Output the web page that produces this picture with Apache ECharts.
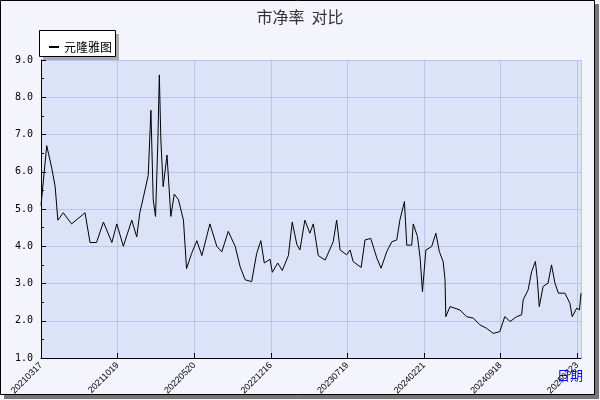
<!DOCTYPE html>
<html><head><meta charset="utf-8">
<script src="https://cdn.jsdelivr.net/npm/echarts@6/dist/echarts.min.js"></script>
<style>html,body{margin:0;padding:0;background:#fff}#c{width:600px;height:400px}</style>
</head><body><div id="c"></div>
<script>
var tickLabels = ['20210317','20211019','20220520','20221216','20230719','20240221','20240918','20250323'];
var times = [0,1.5,2.8,3.7,4.4,5.8,8.0,11.5,12.8,14.5,16.3,18.5,19.8,21.5,23.7,25.0,25.8,26.7,28.0,28.7,29.3,29.9,30.5,30.9,31.3,31.9,32.9,33.9,34.8,35.9,37.2,38.0,39.3,40.7,42.0,44.1,45.9,47.2,48.9,50.7,52.0,53.3,55.0,56.3,57.4,58.3,59.8,60.4,61.8,63.0,64.6,65.6,66.8,
67.6,68.9,70.2,71.1,72.4,74.2,76.3,77.2,78.1,79.8,80.7,81.5,83.6,84.6,86.1,87.7,88.8,90.3,91.6,92.9,93.7,94.9,95.5,96.8,97.2,98.3,99.0,99.6,100.5,102.0,103.1,104.0,105.0,105.5,105.7,106.8,109.4,111.1,112.9,114.6,116.3,118.1,119.8,121.1,122.5,124.2,125.5,125.9,127.2,128.1,129.1,129.6,130.1,131.1,132.4,133.3,134.2,135.1,136.8,138.1,138.7,139.9,140.6,141.0];
var pbValues = [5.1,6.7,6.1,5.6,4.7,4.9,4.6,4.9,4.1,4.1,4.65,4.1,4.6,4.0,4.7,4.25,4.9,5.3,5.9,7.65,5.25,4.8,6.75,8.6,6.85,5.6,6.45,4.8,5.4,5.25,4.7,3.4,3.8,4.15,3.75,4.6,4.0,3.85,4.4,4.0,3.45,3.1,3.05,3.8,4.15,3.55,3.65,3.3,3.55,3.35,3.75,4.65,4.05,
3.9,4.7,4.35,4.6,3.75,3.63,4.12,4.7,3.9,3.77,3.9,3.59,3.43,4.17,4.21,3.68,3.41,3.86,4.12,4.17,4.7,5.2,4.03,4.03,4.6,4.26,3.68,2.78,3.9,3.99,4.35,3.86,3.59,3.1,2.11,2.38,2.29,2.11,2.07,1.89,1.8,1.66,1.71,2.11,1.98,2.11,2.16,2.56,2.83,3.32,3.59,3.1,2.38,2.92,3.01,3.5,3.01,2.74,2.74,2.47,2.11,2.34,2.29,2.74];
var seriesName = '元隆雅图';
var data = times.map(function(t,i){return [t,pbValues[i]];});
var chart = echarts.init(document.getElementById('c'));
chart.setOption({
  animation:false,
  backgroundColor:'#f3f4fc',
  graphic:[
    {type:'rect',shape:{x:4,y:4,width:595,height:395},style:{fill:'#777'},z:-10},
    {type:'rect',shape:{x:0.5,y:0.5,width:594,height:394},style:{fill:'#f3f4fc',stroke:'#000',lineWidth:1},z:-9},
    {type:'rect',shape:{x:43,y:34,width:76,height:26},style:{fill:'#aaa'},z:-1},
    {type:'rect',shape:{x:39.5,y:30.5,width:76,height:26},style:{fill:'#fff',stroke:'#000',lineWidth:1},z:0},
    {type:'text',left:557,top:369,z:10,style:{text:'日期',fill:'#0000ff',font:'13px "Noto Sans CJK SC"'}}
  ],
  title:{text:'市净率  对比',left:'center',top:4,textStyle:{fontFamily:'Noto Sans CJK SC',fontSize:16,fontWeight:'normal',color:'#333'}},
  legend:{left:44,top:36,itemWidth:10,itemHeight:2,itemGap:4,icon:'rect',data:[seriesName],textStyle:{fontFamily:'Noto Sans CJK SC',fontSize:12,color:'#000'}},
  grid:{left:41,right:19,top:60,bottom:42,containLabel:false,outerBoundsMode:'none',show:true,backgroundColor:'#dce2f7',borderWidth:0},
  xAxis:{type:'value',min:0,max:141,interval:20,
    axisLine:{lineStyle:{color:'#000'}},axisTick:{inside:true,length:5,lineStyle:{color:'#000'}},
    splitLine:{show:true,lineStyle:{color:'#b8c4ea'}},
    axisLabel:{rotate:45,fontSize:9,color:'#000',margin:6,showMaxLabel:false,formatter:function(v){var k=Math.round(v/20);return tickLabels[k]||'';}}},
  yAxis:{type:'value',min:1,max:9,interval:1,
    axisLine:{show:true,lineStyle:{color:'#000'}},axisTick:{inside:true,length:5,lineStyle:{color:'#000'}},
    minorTick:{show:true,splitNumber:2,length:3,lineStyle:{color:'#000'}},
    splitLine:{show:true,lineStyle:{color:'#b8c4ea'}},
    axisLabel:{fontSize:10,color:'#000',fontFamily:'DejaVu Sans Mono',formatter:function(v){return v.toFixed(1);}}},
  series:[{name:seriesName,type:'line',data:data,showSymbol:false,lineStyle:{color:'#000',width:1},itemStyle:{color:'#000'}}]
});
</script></body></html>
